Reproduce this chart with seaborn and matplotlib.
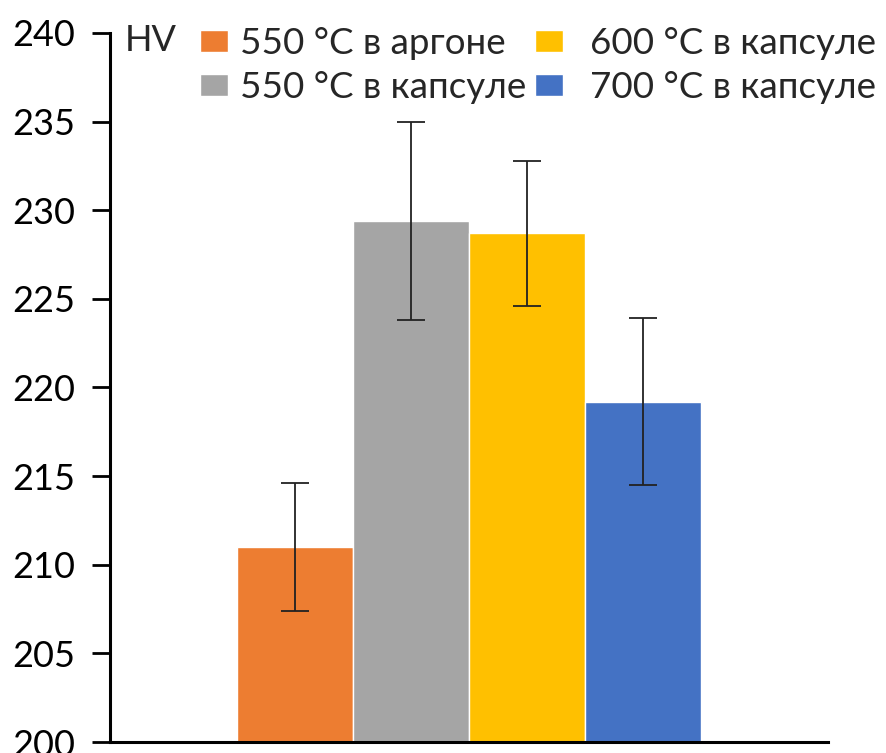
import pandas as pd
import matplotlib
matplotlib.use("Agg")
import matplotlib.pyplot as plt
import seaborn as sns

# данные твёрдости HV
groups = ["550 °C в аргоне", "550 °C в капсуле", "600 °C в капсуле", "700 °C в капсуле"]
hv_mean = [211.0, 229.4, 228.7, 219.2]
hv_err = [3.6, 5.6, 4.1, 4.7]
colors = ["#ED7D31", "#A5A5A5", "#FFC000", "#4472C4"]
y_ticks = [200, 205, 210, 215, 220, 225, 230, 235, 240]

df = pd.DataFrame({"x": [""] * len(groups), "group": groups, "HV": hv_mean})

sns.set_style("white")
plt.rcParams["font.family"] = ["Lato", "DejaVu Sans"]

fig = plt.figure(figsize=(8.87, 7.53), dpi=100)
ax = fig.add_axes([0.124, 0.0146, 0.8095, 0.9416])

sns.barplot(data=df, x="x", y="HV", hue="group", hue_order=groups,
            palette=colors, width=0.646, gap=0, errorbar=None,
            saturation=1, ax=ax, legend=True)

# усы погрешности по центрам столбиков
bars = [p for p in ax.patches if p.get_height() > 0][:len(groups)]
bars = sorted(bars, key=lambda p: p.get_x())
xs = [p.get_x() + p.get_width() / 2 for p in bars]
ax.errorbar(xs, hv_mean, yerr=hv_err, fmt="none", ecolor="#222222",
            elinewidth=1.3, capsize=10, capthick=1.3)

ax.set_xlim(-0.5, 0.5)
ax.set_ylim(200, 240)
ax.set_yticks(y_ticks)
ax.set_xticks([])
ax.set_xlabel("")
ax.set_ylabel("")
ax.tick_params(axis="y", labelsize=26, length=13, width=2, pad=12, left=True,
               colors="black")
for s in ["top", "right"]:
    ax.spines[s].set_visible(False)
for s in ["left", "bottom"]:
    ax.spines[s].set_linewidth(2.2)
    ax.spines[s].set_color("black")
    ax.spines[s].set_clip_on(False)

ax.text(0.02, 1.012, "HV", transform=ax.transAxes, fontsize=26,
        va="top", ha="left")

# легенда в две колонки, как в исходнике
handles, labels = ax.get_legend_handles_labels()
ax.get_legend().remove()
leg_kw = dict(loc="upper left", frameon=False, fontsize=26.5,
              handlelength=0.75, handleheight=0.55, labelspacing=0.3,
              borderpad=0, borderaxespad=0)
leg1 = fig.legend(handles[:2], labels[:2], bbox_to_anchor=(200 / 887, 1 - 27 / 753),
                  handletextpad=0.35, **leg_kw)
leg2 = fig.legend(handles[2:], labels[2:], bbox_to_anchor=(535 / 887, 1 - 27 / 753),
                  handletextpad=0.75, **leg_kw)

fig.savefig("out.png", dpi=100)
